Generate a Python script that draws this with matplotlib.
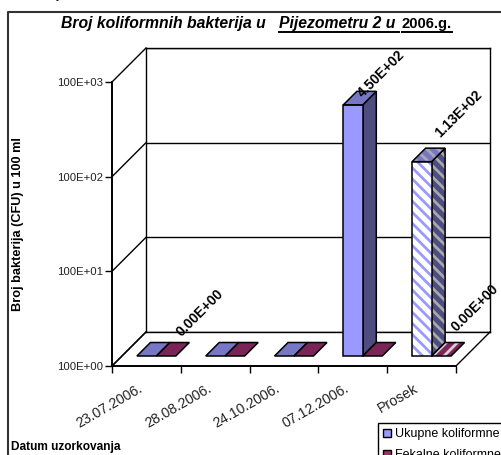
"""Broj koliformnih bakterija - 3D style column chart on a log axis."""
import matplotlib
matplotlib.use("Agg")
import matplotlib.pyplot as plt
from matplotlib.patches import Patch, Polygon
from matplotlib.transforms import IdentityTransform

plt.rcParams["font.family"] = ["Liberation Sans", "DejaVu Sans"]
plt.rcParams["hatch.linewidth"] = 2.0

dates = ["23.07.2006.", "28.08.2006.", "24.10.2006.", "07.12.2006.", "Prosek"]
ukupne = [0, 0, 0, 450, 113]
fekalne = [0, 0, 0, 0, 0]
series_names = ["Ukupne koliformne", "Fekalne koliformne"]
y_ticks = [1, 10, 100, 1000]
y_labels = ["100E+00", "100E+01", "100E+02", "100E+03"]

W, H = 502, 455
X0, X1, Y_TOP, Y_BOT = 112, 456, 82, 366  # front plane, pixels
DEPTH = 34
D1, D2 = 10, 23.5  # bar front/back depth
BAR_W = 0.283

FACES = {
    "u": dict(front="#9999FF", top="#7777C6", side="#4D4D80"),
    "f": dict(front="#993366", top="#7A2458", side="#4D1A33"),
}


def box(x0, y_top, x1, y_bot):
    return [x0 / W, 1 - y_bot / H, (x1 - x0) / W, (y_bot - y_top) / H]


fig = plt.figure(figsize=(W / 100, H / 100), dpi=100, facecolor="white")

# back wall
back = fig.add_axes(box(X0 + DEPTH, Y_TOP - DEPTH, X1 + DEPTH, Y_BOT - DEPTH))
back.set_yscale("log")
back.set_ylim(1, 1000)
back.set_xlim(0, 5)
back.set_yticks(y_ticks)
back.set_yticklabels([])
back.minorticks_off()
back.set_xticks([])
back.tick_params(length=0)
back.grid(axis="y", color="black", linewidth=1)
for s in back.spines.values():
    s.set_linewidth(1)

# front plane carries the scales
ax = fig.add_axes(box(X0, Y_TOP, X1, Y_BOT))
ax.patch.set_alpha(0)
ax.set_yscale("log")
ax.set_ylim(1, 1000)
ax.set_xlim(0, 5)
ax.spines["top"].set_visible(False)
ax.spines["right"].set_visible(False)
ax.spines["left"].set_linewidth(1.4)
ax.spines["bottom"].set_linewidth(1.4)
ax.set_yticks(y_ticks)
ax.set_yticklabels(y_labels, fontsize=8.2, color="#222222")
ax.minorticks_off()
ax.tick_params(axis="y", length=5, width=1, pad=1.5)
ax.set_xticks(range(len(dates) + 1))
ax.set_xticklabels([])
ax.tick_params(axis="x", length=5, width=1)
fig.canvas.draw()


def px(x, v, d=0):
    p = ax.transData.transform((x, max(v, 1)))
    return (p[0] + d, p[1] + d)


def poly(pts, fc, hatch_fc=None, hatch=None, lw=1.1):
    if hatch:
        ax.add_patch(Polygon(pts, closed=True, facecolor=fc, edgecolor=hatch_fc, hatch=hatch,
                             linewidth=0, transform=IdentityTransform(), clip_on=False, zorder=3))
        fc = "none"
    ax.add_patch(Polygon(pts, closed=True, facecolor=fc, edgecolor="black", linewidth=lw,
                         transform=IdentityTransform(), clip_on=False, zorder=3))


# wall and floor edges
for v in y_ticks:
    a, b = px(0, v), px(0, v, DEPTH)
    ax.plot([a[0], b[0]], [a[1], b[1]], color="black", lw=1, transform=IdentityTransform(), clip_on=False)
for x in (0, 5):
    a, b = px(x, 1), px(x, 1, DEPTH)
    ax.plot([a[0], b[0]], [a[1], b[1]], color="black", lw=1, transform=IdentityTransform(), clip_on=False)


def draw_bar(x, v, c, hatched):
    f = FACES[c]
    fl, fr = px(x, v, D1), px(x + BAR_W, v, D1)
    bl, br = px(x, v, D2), px(x + BAR_W, v, D2)
    lo_l, lo_r = px(x, 1, D1), px(x + BAR_W, 1, D1)
    lo_br = px(x + BAR_W, 1, D2)
    if hatched:
        if v > 1:
            poly([lo_r, fr, br, lo_br], f["side"], "#A8A8AE", "\\\\\\")
            poly([fl, fr, br, bl], f["top"], "#A8A8AE", "\\\\\\")
            poly([lo_l, lo_r, fr, fl], "white", f["front"], "\\\\\\")
        else:
            poly([fl, fr, br, bl], f["top"], "#DCCCD4", "///")
    else:
        if v > 1:
            poly([lo_r, fr, br, lo_br], f["side"])
            poly([lo_l, lo_r, fr, fl], f["front"])
        poly([fl, fr, br, bl], f["top"])


for i, (u, k) in enumerate(zip(ukupne, fekalne)):
    hatched = dates[i] == "Prosek"
    draw_bar(i + 0.5 - BAR_W, u, "u", hatched)
    draw_bar(i + 0.5, k, "f", hatched)

# data labels, offset in pixels from the bar's back top corner
for i, x_off, v, txt, dx, dy in [
    (0, 0, fekalne[0], "0.00E+00", 20, 30),
    (3, -BAR_W, ukupne[3], "4.50E+02", 15, 17),
    (4, -BAR_W, ukupne[4], "1.13E+02", 23, 34),
    (4, 0, fekalne[4], "0.00E+00", 20, 35),
]:
    a = px(i + 0.5 + x_off + BAR_W / 2, v, D2)
    ax.annotate(txt, xy=a, xycoords=IdentityTransform(), xytext=(dx, dy), textcoords="offset pixels",
                rotation=45, ha="center", va="center", fontsize=10, fontweight="bold", zorder=5,
                annotation_clip=False)

# category labels
for i, d in enumerate(dates):
    a = px(i + 0.5, 1)
    ax.annotate(d, xy=a, xycoords=IdentityTransform(), xytext=(-5, -21), textcoords="offset pixels",
                rotation=30, rotation_mode="anchor", ha="right", va="center", fontsize=10.2,
                annotation_clip=False, color="#222222")


def fx(x):
    return x / W


def fy(y):
    return 1 - y / H


# outer chart frame, cut by the picture on the right and below
fig.add_artist(plt.Line2D([fx(8), fx(8), fx(W)], [0, fy(12), fy(12)], color="#333333", lw=1.5))

title_kw = dict(fontweight="bold", va="baseline", color="black")
fig.text(fx(61), fy(28), "Broj koliformnih bakterija u", style="italic", fontsize=11.3, **title_kw)
fig.text(fx(279), fy(28), "Pijezometru 2 u", style="italic", fontsize=11.3, **title_kw)
fig.text(fx(402), fy(28), "2006.g.", fontsize=10.6, **title_kw)
for x0, x1 in [(279, 399), (402, 452)]:
    fig.add_artist(plt.Line2D([fx(x0), fx(x1)], [fy(32), fy(32)], color="black", lw=1.4))
fig.text(fx(57), fy(-2), "y", style="italic", fontsize=9, va="baseline")

fig.text(fx(18), fy(224), "Broj bakterija (CFU) u 100 ml", rotation=90, ha="center", va="center",
         fontsize=9.2, fontweight="bold")
fig.text(fx(11), fy(450), "Datum uzorkovanja", ha="left", va="baseline", fontsize=8.6, fontweight="bold")

handles = [
    Patch(facecolor=FACES["u"]["front"], edgecolor="black", linewidth=1, label=series_names[0]),
    Patch(facecolor=FACES["f"]["front"], edgecolor="black", linewidth=1, label=series_names[1]),
]
leg = fig.legend(handles=handles, loc="upper left", bbox_to_anchor=(fx(378), fy(423)), fontsize=9,
                 frameon=True, fancybox=False, framealpha=1, edgecolor="black", handlelength=0.62,
                 handleheight=0.62, handletextpad=0.32, borderpad=0.42, borderaxespad=0, labelspacing=0.72)
leg.get_frame().set_linewidth(1)

fig.savefig("out.png", dpi=100)
